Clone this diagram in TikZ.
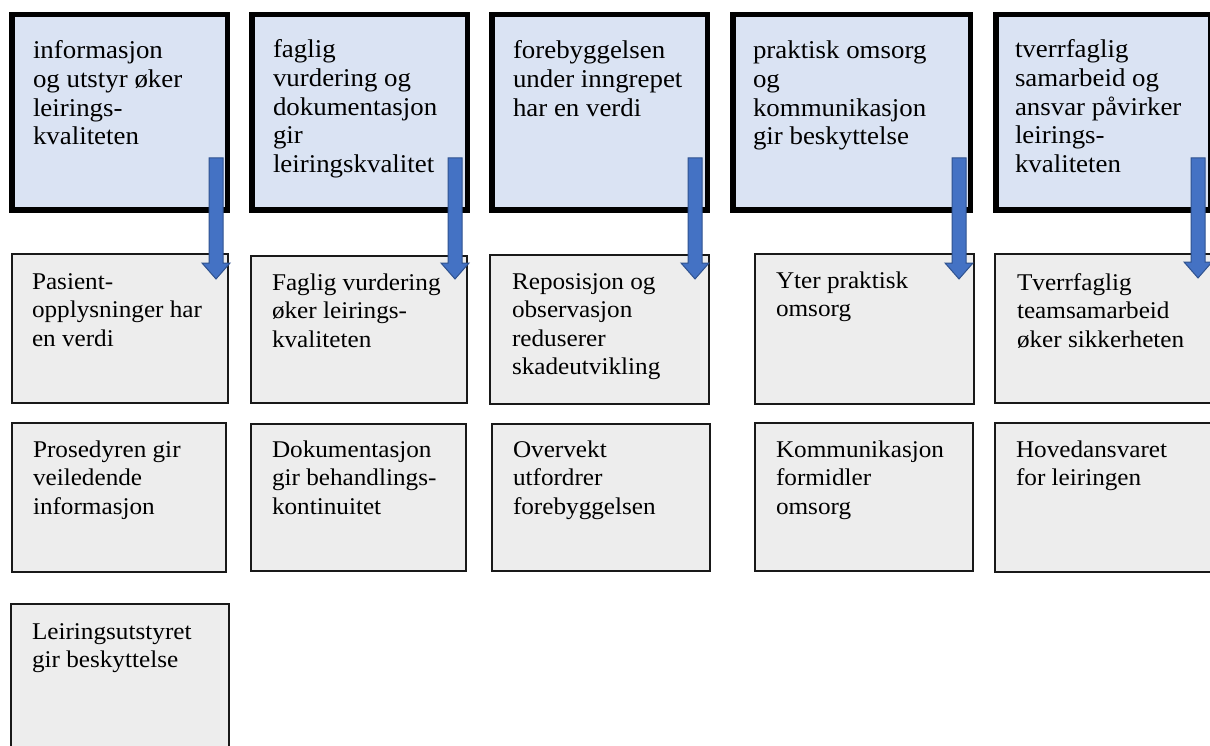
\documentclass[tikz,border=0pt]{standalone}
\usepackage{fontspec}
\setmainfont[FakeStretch=1.05]{Liberation Serif}
\usetikzlibrary{calc}
\definecolor{topfill}{HTML}{DAE3F3}
\definecolor{grayfill}{HTML}{EDEDED}
\definecolor{arrfill}{HTML}{4472C4}
\definecolor{arrline}{HTML}{2F528F}
\tikzset{
  topbox/.style={draw=black, line width=5.5pt, fill=topfill, inner sep=0pt, outer sep=0pt},
  graybox/.style={draw=black!90, line width=2pt, fill=grayfill, inner sep=0pt, outer sep=0pt},
  lbl/.style={anchor=base west, inner sep=0pt, outer sep=0pt, font=\fontsize{24}{28.5}\selectfont},
  toplbl/.style={lbl, font=\fontsize{25.6}{28.6}\selectfont},
  blockarrow/.style={fill=arrfill, draw=arrline, line width=1pt, line join=miter},
}
\newcommand\boxnode[7]{% style, name, lw, x1, y1, x2, y2
  \node[#1, minimum width={(#6-#4-#3)*1pt}, minimum height={(#7-#5-#3)*1pt}] (#2) at ({(#4+#6)/2},{(#5+#7)/2}) {};}
\newcommand\boxtext[5]{% style, name, x, baseline, text
  \node[#1] (#2) at (#3,#4) {\parbox[t]{230pt}{\raggedright #5}};}
\begin{document}
\begin{tikzpicture}[x=1pt, y=-1pt]
\useasboundingbox (0,0) rectangle (1210,746);
\fill[white] (0,0) rectangle (1210,746);
\clip (0,0) rectangle (1210,746);
% top row
\boxnode{topbox}{t1}{5.5}{9}{12}{230}{213}
\boxnode{topbox}{t2}{5.5}{249}{12}{470}{213}
\boxnode{topbox}{t3}{5.5}{489}{12}{710}{213}
\boxnode{topbox}{t4}{5.5}{730}{12}{973}{213}
\boxnode{topbox}{t5}{5.5}{993}{12}{1213}{213}
% middle row
\boxnode{graybox}{m1}{2}{11}{253}{229}{404}
\boxnode{graybox}{m2}{2}{250}{255}{468}{404}
\boxnode{graybox}{m3}{2}{489}{254}{710}{405}
\boxnode{graybox}{m4}{2}{754}{253}{975}{405}
\boxnode{graybox}{m5}{2}{994}{253}{1216}{404}
% bottom row
\boxnode{graybox}{b1}{2}{11}{422}{227}{573}
\boxnode{graybox}{b2}{2}{250}{423}{467}{572}
\boxnode{graybox}{b3}{2}{491}{423}{711}{572}
\boxnode{graybox}{b4}{2}{754}{422}{974}{572}
\boxnode{graybox}{b5}{2}{994}{422}{1216}{573}
\boxnode{graybox}{b6}{2}{10}{603}{230}{760}
% texts
\boxtext{toplbl}{t1x}{33}{59}{informasjon\\og utstyr øker\\leirings-\\kvaliteten}
\boxtext{toplbl}{t2x}{273}{58}{faglig\\vurdering og\\dokumentasjon\\gir\\leiringskvalitet}
\boxtext{toplbl}{t3x}{513}{59}{forebyggelsen\\under inngrepet\\har en verdi}
\boxtext{toplbl}{t4x}{753}{59}{praktisk omsorg\\og\\kommunikasjon\\gir beskyttelse}
\boxtext{toplbl}{t5x}{1015}{58}{tverrfaglig\\samarbeid og\\ansvar påvirker\\leirings-\\kvaliteten}
\boxtext{lbl}{m1x}{32}{289}{Pasient-\\opplysninger har\\en verdi}
\boxtext{lbl}{m2x}{272}{290}{Faglig vurdering\\øker leirings-\\kvaliteten}
\boxtext{lbl}{m3x}{512}{289}{Reposisjon og\\observasjon\\reduserer\\skadeutvikling}
\boxtext{lbl}{m4x}{776}{288}{Yter praktisk\\omsorg}
\boxtext{lbl}{m5x}{1017}{290}{Tverrfaglig\\teamsamarbeid\\øker sikkerheten}
\boxtext{lbl}{b1x}{33}{457}{Prosedyren gir\\veiledende\\informasjon}
\boxtext{lbl}{b2x}{272}{457}{Dokumentasjon\\gir behandlings-\\kontinuitet}
\boxtext{lbl}{b3x}{513}{457}{Overvekt\\utfordrer\\forebyggelsen}
\boxtext{lbl}{b4x}{776}{457}{Kommunikasjon\\formidler\\omsorg}
\boxtext{lbl}{b5x}{1016}{457}{Hovedansvaret\\for leiringen}
\boxtext{lbl}{b6x}{32}{639}{Leiringsutstyret\\gir beskyttelse}
% arrow end points
\coordinate (a1s) at (216,158);  \coordinate (a1e) at (216,279);
\coordinate (a2s) at (455,158);  \coordinate (a2e) at (455,279);
\coordinate (a3s) at (695,158);  \coordinate (a3e) at (695,279);
\coordinate (a4s) at (959,158);  \coordinate (a4e) at (959,279);
\coordinate (a5s) at (1198,158); \coordinate (a5e) at (1198,278);
\foreach \k in {1,...,5}{
  \filldraw[blockarrow] ($(a\k s)+(-7,0)$) -- ($(a\k s)+(7,0)$) -- ($(a\k e)+(7,-16)$)
    -- ($(a\k e)+(14,-16)$) -- (a\k e) -- ($(a\k e)+(-14,-16)$) -- ($(a\k e)+(-7,-16)$) -- cycle;
}
\end{tikzpicture}
\end{document}
